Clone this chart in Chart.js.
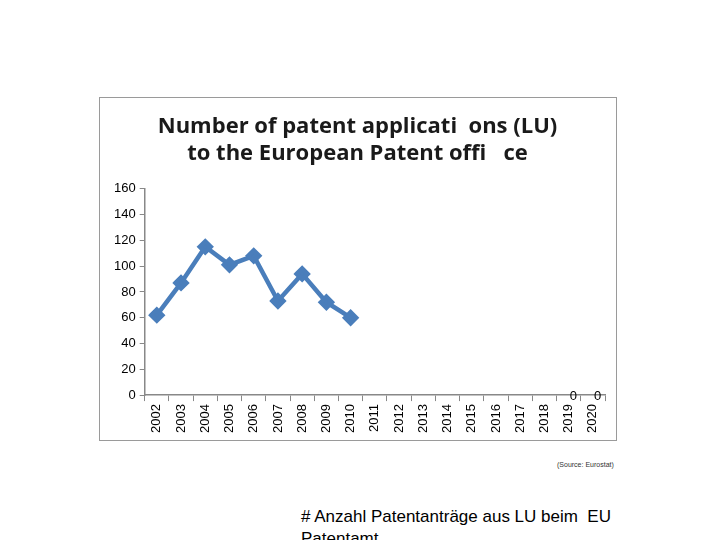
<!DOCTYPE html>
<html>
<head>
<meta charset="utf-8">
<script src="https://cdn.jsdelivr.net/npm/chart.js@4"></script>
<style>
  body { margin: 0; width: 720px; height: 540px; overflow: hidden; background: #fff; position: relative; font-family: "Liberation Sans", Arial, sans-serif; }
  #box { position: absolute; left: 99px; top: 97px; width: 516px; height: 342px; border: 1px solid #9a9a9a; }
  #src { position: absolute; left: 557px; top: 461px; font-size: 7px; color: #333; }
  #note { position: absolute; left: 301px; top: 506px; font-size: 17px; color: #000; width: 370px; line-height: 22px; }
</style>
</head>
<body>
<div id="box"><canvas id="c" width="516" height="342"></canvas></div>
<div id="src">(Source: Eurostat)</div>
<div id="note"># Anzahl Patentanträge aus LU beim&nbsp; EU Patentamt</div>
<script>
const years = ['2002','2003','2004','2005','2006','2007','2008','2009','2010','2011','2012','2013','2014','2015','2016','2017','2018','2019','2020'];
const applications = [62, 87, 115, 101, 108, 73, 94, 72, 60, null, null, null, null, null, null, null, null, 0, 0];
const yTicks = [0, 20, 40, 60, 80, 100, 120, 140, 160];

// draws "0" labels for the zero points, like the original spreadsheet chart
const zeroLabels = {
    id: 'zeroLabels',
    afterDatasetsDraw(chart) {
        const ctx = chart.ctx;
        const meta = chart.getDatasetMeta(0);
        ctx.save();
        ctx.font = '13px "Liberation Sans", Arial';
        ctx.fillStyle = '#000';
        ctx.textBaseline = 'bottom';
        applications.forEach((v, i) => {
            if (v === 0) ctx.fillText('0', meta.data[i].x + 1, meta.data[i].y + 8);
        });
        ctx.restore();
    }
};

new Chart(document.getElementById('c'), {
    type: 'line',
    data: {
        labels: years,
        datasets: [{
            data: applications,
            borderColor: '#4a7ebb',
            backgroundColor: '#4a7ebb',
            borderWidth: 4.5,
            pointStyle: 'rectRot',
            pointRadius: applications.map(v => v === 0 ? 0 : 5.5),
            segment: { borderColor: c => (c.p0.parsed.y === 0 ? 'rgba(0,0,0,0)' : undefined) },
            spanGaps: false,
            tension: 0
        }]
    },
    options: {
        responsive: false,
        animation: false,
        layout: { padding: { left: 10, right: 11, top: 10, bottom: 4 } },
        plugins: {
            legend: { display: false },
            tooltip: { enabled: false },
            title: {
                display: true,
                text: ['Number of patent applicati  ons (LU)', 'to the European Patent offi   ce'],
                font: { family: '"Open Sans", Calibri, sans-serif', size: 22, weight: 'bold' },
                color: '#1a1a1a',
                padding: { top: 6, bottom: 22 },
                lineHeight: 1.7
            }
        },
        scales: {
            x: {
                offset: true,
                grid: { display: true, drawOnChartArea: false, offset: true, tickLength: 6, color: '#888' },
                border: { color: '#888', width: 1.5 },
                ticks: { minRotation: 90, maxRotation: 90, color: '#000', font: { family: '"Liberation Sans", Arial', size: 13 }, padding: 3 }
            },
            y: {
                min: 0, max: 160,
                afterBuildTicks: axis => { axis.ticks = yTicks.map(v => ({ value: v })); },
                grid: { drawOnChartArea: false, tickLength: 5, color: '#888' },
                border: { color: '#888', width: 1.5 },
                ticks: { color: '#000', font: { family: '"Liberation Sans", Arial', size: 13 }, padding: 4 }
            }
        }
    },
    plugins: [zeroLabels]
});
</script>
</body>
</html>
